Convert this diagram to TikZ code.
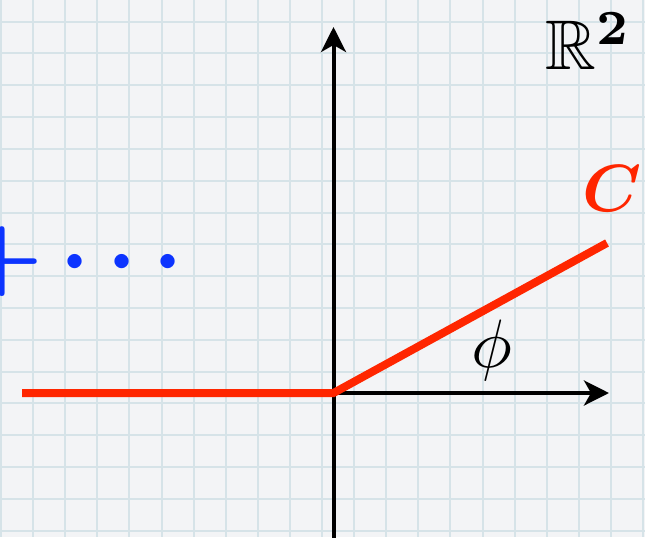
\documentclass[tikz,border=0pt]{standalone}
\usepackage{graphicx}
\usepackage{amsmath,amssymb}
\usetikzlibrary{arrows.meta}
\definecolor{paper}{RGB}{243,244,246}
\definecolor{gridblue}{RGB}{214,227,232}
\definecolor{curvered}{RGB}{255,38,0}
\definecolor{dotsblue}{RGB}{12,52,255}

\begin{document}
\begin{tikzpicture}[x=0.02cm,y=-0.02cm,
  gridline/.style={draw=gridblue,line width=0.04cm},
  axis/.style={draw=black,line width=0.08cm,-{Stealth[length=0.5cm,width=0.5cm,inset=0.14cm]}},
  curve/.style={draw=curvered,line width=0.16cm},
  label/.style={inner sep=0,anchor=base}]
 \useasboundingbox[fill=paper] (0,0) rectangle (645,537);
 \clip (0,0) rectangle (645,537);
 \foreach \i in {0,...,20} \draw[gridline] ({1+32.1*\i},0) -- ({1+32.1*\i},537);
 \foreach \j in {0,...,16} \draw[gridline] (0,{21.7+31.8*\j}) -- (645,{21.7+31.8*\j});

 \coordinate (O) at (333.5,393);
 \coordinate (Xend) at (609,393);
 \coordinate (Ytop) at (333.5,27);
 \coordinate (Ybot) at (333.5,545);
 \coordinate (Cleft) at (22,393);
 \coordinate (Cend) at (607,243);

 \draw[axis] (Ybot) -- (Ytop);
 \draw[axis] (O) -- (Xend);
 \draw[curve] (Cleft) -- (O) -- (Cend);

 \node[label,text=curvered] (C) at (612,211) {\scalebox{3.8}{$\boldsymbol{C}$}};
 \node[label] (R2) at (589,70) {\scalebox{4}{$\mathbb{R}^{\mathbf{2}}$}};
 \node[label] (phi) at (492,367) {\scalebox{3.9}{$\phi$}};
 \node[label,anchor=base west,text=dotsblue] (dots) at (-39,284) {\scalebox{5.2}{$\boldsymbol{+\cdots}$}};
\end{tikzpicture}
\end{document}
